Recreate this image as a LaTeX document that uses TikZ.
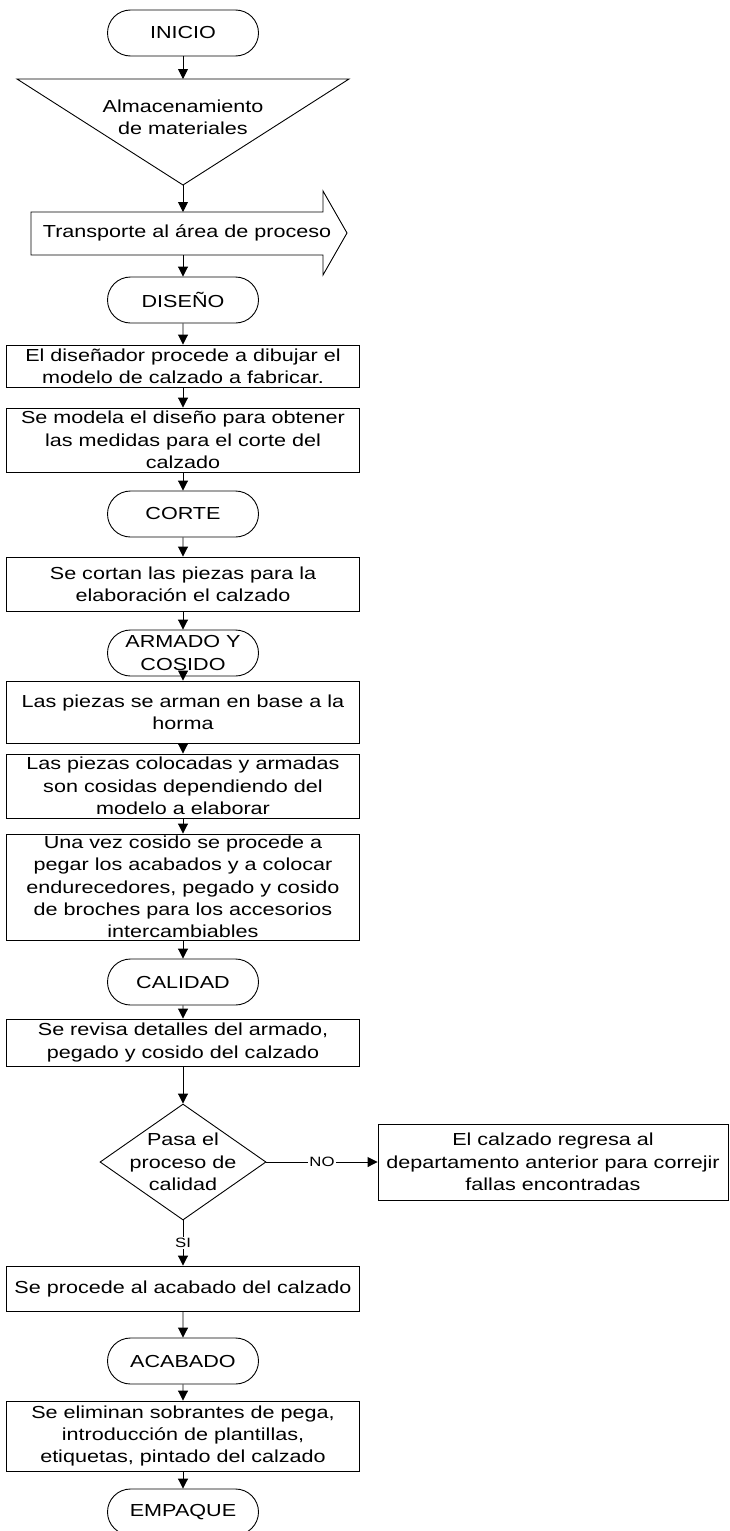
\documentclass[tikz,border=0pt]{standalone}
\usepackage{fontspec}
\setmainfont{Liberation Sans}[FakeStretch=1.24]
\usetikzlibrary{shapes.misc,shapes.geometric,arrows.meta}

\begin{document}
\begin{tikzpicture}[x=1pt,y=-1pt,line width=0.9pt,
  every node/.style={font=\fontsize{17.4}{22.3}\selectfont,align=center,inner sep=0pt},
  term/.style={draw,rounded rectangle,minimum width=151pt,minimum height=46pt},
  caja/.style={draw,rectangle,minimum width=353pt},
  decision/.style={draw,diamond,minimum width=166pt,minimum height=116pt},
  flecha/.style={-{Triangle[length=10pt,width=10pt]}},
  etiq/.style={font=\fontsize{13.5}{16}\selectfont,fill=white,inner sep=1pt}]
\useasboundingbox (0,0) rectangle (730,1531);
\node[term] (inicio) at (183,33) {INICIO};
\draw (17,79) -- (349,79) -- (183,185) -- cycle;
\coordinate (almsup) at (183,79);
\coordinate (almpunta) at (183,185);
\node (alm) at (183,117) {Almacenamiento\\de materiales};
\draw (31,212) -- (323,212) -- (323,191) -- (347,233) -- (323,275) -- (323,255) -- (31,255) -- cycle;
\node (transp) at (187,233) {Transporte al área de proceso};
\coordinate (transpsup) at (183,212);
\coordinate (transpinf) at (183,255);
\node[term] (diseno) at (183,300) {DISEÑO};
\node[caja,minimum height=42pt] (dibujo) at (183,366) {El diseñador procede a dibujar el\\modelo de calzado a fabricar.};
\node[caja,minimum height=64pt] (modela) at (183,440) {Se modela el diseño para obtener\\las medidas para el corte del\\calzado};
\node[term] (corte) at (183,514) {CORTE};
\node[caja,minimum height=54pt] (cortan) at (183,584) {Se cortan las piezas para la\\elaboración el calzado};
\node[term] (armado) at (183,653) {ARMADO Y\\COSIDO};
\node[caja,minimum height=62pt] (arman) at (183,712) {Las piezas se arman en base a la\\horma};
\node[caja,minimum height=64pt] (cosidas) at (183,786) {Las piezas colocadas y armadas\\son cosidas dependiendo del\\modelo a elaborar};
\node[caja,minimum height=106pt] (pegar) at (183,887) {Una vez cosido se procede a\\pegar los acabados y a colocar\\endurecedores, pegado y cosido\\de broches para los accesorios\\intercambiables};
\node[term] (calidad) at (183,982) {CALIDAD};
\node[caja,minimum height=47pt] (revisa) at (183,1042.5) {Se revisa detalles del armado,\\pegado y cosido del calzado};
\node[decision,label={center:Pasa el\\proceso de\\calidad}] (pasa) at (183,1162) {};
\node[caja,minimum width=350pt,minimum height=76pt] (regresa) at (553,1162) {El calzado regresa al\\departamento anterior para correjir\\fallas encontradas};
\node[caja,minimum height=45pt] (procede) at (183,1288.5) {Se procede al acabado del calzado};
\node[term] (acabado) at (183,1361) {ACABADO};
\node[caja,minimum height=70pt] (eliminan) at (183,1436) {Se eliminan sobrantes de pega,\\introducción de plantillas,\\etiquetas, pintado del calzado};
\node[term] (empaque) at (183,1512) {EMPAQUE};
\draw[flecha] (inicio) -- (almsup);
\draw[flecha] (almpunta) -- (transpsup);
\draw[flecha] (transpinf) -- (diseno);
\draw[flecha] (diseno) -- (dibujo);
\draw[flecha] (dibujo) -- (modela);
\draw[flecha] (modela) -- (corte);
\draw[flecha] (corte) -- (cortan);
\draw[flecha] (cortan) -- (armado);
\draw[flecha] (armado) -- (arman);
\draw[flecha] (arman) -- (cosidas);
\draw[flecha] (cosidas) -- (pegar);
\draw[flecha] (pegar) -- (calidad);
\draw[flecha] (calidad) -- (revisa);
\draw[flecha] (revisa) -- (pasa);
\draw[flecha] (pasa) -- node[etiq] {NO} (regresa);
\draw[flecha] (pasa) -- node[etiq] {SI} (procede);
\draw[flecha] (procede) -- (acabado);
\draw[flecha] (acabado) -- (eliminan);
\draw[flecha] (eliminan) -- (empaque);
\end{tikzpicture}
\end{document}
